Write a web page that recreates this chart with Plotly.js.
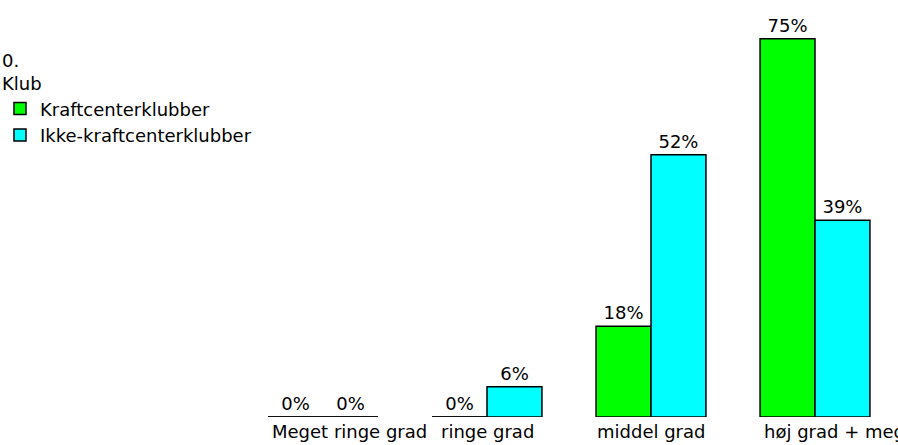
<!DOCTYPE html>
<html>
<head>
<meta charset="utf-8">
<script src="https://cdn.plot.ly/plotly-3.0.1.min.js"></script>
<style>html,body{margin:0;padding:0;background:#fff;}#chart{width:898px;height:445px;}</style>
</head>
<body>
<div id="chart"></div>
<script>
const categories = ["Meget ringe grad", "ringe grad", "middel grad", "høj grad + meget høj grad"];
const seriesNames = ["Kraftcenterklubber", "Ikke-kraftcenterklubber"];
const kraftValues = [0, 0, 18, 75];
const ikkeValues = [0, 6, 52, 39];
const seriesColors = ["#00ff00", "#00ffff"];
const legendTitle = "0.<br>Klub";

const FONT = "DejaVu Sans, Verdana, sans-serif";
const allSeries = [kraftValues, ikkeValues];
const BARGAP = 0.33;
const slot = (1 - BARGAP) / allSeries.length;

const traces = allSeries.map((vals, i) => ({
  type: "bar",
  name: seriesNames[i],
  x: categories,
  y: vals,
  marker: {color: seriesColors[i], line: {color: "#000", width: 1.5}},
  texttemplate: "%{y}%",
  textposition: "outside",
  cliponaxis: false,
  textfont: {family: FONT, size: 18, color: "#000"},
  hoverinfo: "skip"
}));

// outlines for zero-height bars, derived from the data
const shapes = [];
allSeries.forEach((vals, i) => {
  vals.forEach((v, j) => {
    if (v === 0) {
      const x0 = j - (1 - BARGAP) / 2 + i * slot;
      shapes.push({type: "line", xref: "x", yref: "y", x0: x0, x1: x0 + slot, y0: 0, y1: 0,
        line: {color: "#000", width: 1.5}});
    }
  });
});

// category labels: centred if they fit within the group, otherwise left-aligned at group start
const annotations = categories.map((c, j) => {
  const long = c.length > 12;
  return {
    xref: "x", yref: "paper", x: long ? j - (1 - BARGAP) / 2 : j, y: 0,
    yanchor: "top", xanchor: long ? "left" : "center", xshift: long ? 2 : 0, yshift: -2,
    text: c, showarrow: false, font: {family: FONT, size: 18, color: "#000"}
  };
});

const layout = {
  width: 898, height: 445,
  margin: {l: 241, r: 1, t: 12, b: 28, autoexpand: false},
  paper_bgcolor: "#fff", plot_bgcolor: "#fff",
  font: {family: FONT, size: 18, color: "#000"},
  barmode: "group", bargap: BARGAP, bargroupgap: 0,
  showlegend: true,
  legend: {
    x: -0.3674, y: 0.922, xanchor: "left", yanchor: "top",
    title: {text: legendTitle, side: "top", font: {family: FONT, size: 18, color: "#000"}},
    font: {family: FONT, size: 18, color: "#000"},
    bgcolor: "rgba(0,0,0,0)", borderwidth: 0, traceorder: "normal", tracegroupgap: 0
  },
  xaxis: {type: "category", range: [-0.5, 3.5], showticklabels: false, showgrid: false, zeroline: false, showline: false, ticks: ""},
  yaxis: {range: [0, 80.3], visible: false, showgrid: false, zeroline: false},
  shapes: shapes,
  annotations: annotations
};

Plotly.newPlot("chart", traces, layout, {staticPlot: true, displayModeBar: false});
</script>
</body>
</html>
